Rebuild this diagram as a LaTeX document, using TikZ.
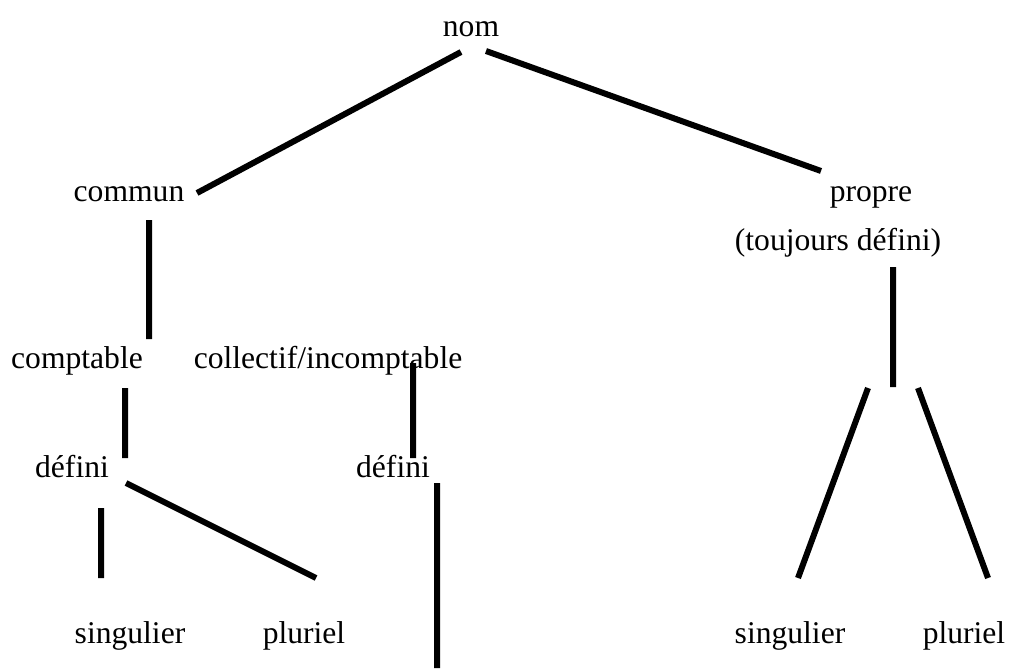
\documentclass[tikz,border=0pt]{standalone}
\usepackage{fontspec}
\setmainfont{Liberation Serif}

\begin{document}
\begin{tikzpicture}[x=0.5pt,y=-0.5pt]
      \tikzset{
        every node/.style={anchor=base,inner sep=0pt,font=\fontsize{15.8}{19}\selectfont},
        branch/.style={line width=3pt}
      }

      \useasboundingbox (0,0) rectangle (1010,668);

      \node (nom) at (471,37) {nom};
      \node (commun) at (129,202) {commun};
      \node (propre) at (871,202) {propre};
      \node (toujours) at (838,250) {(toujours défini)};
      \node (comptable) at (77,368) {comptable};
      \node (collectif) at (328,368) {collectif/incomptable};
      \node (defini1) at (72,477) {défini};
      \node (defini2) at (393,477) {défini};
      \node (sing1) at (130,643) {singulier};
      \node (plur1) at (304,643) {pluriel};
      \node (sing2) at (790,643) {singulier};
      \node (plur2) at (964,643) {pluriel};

      % loose ends of the branches
      \coordinate (n1) at (461,52);
      \coordinate (n2) at (486,51);
      \coordinate (c1) at (197,193);
      \coordinate (p1) at (821,171);
      \coordinate (c2) at (149,220);
      \coordinate (c3) at (149,339);
      \coordinate (t1) at (893,267);
      \coordinate (t2) at (893,387);
      \coordinate (s1) at (868,388);
      \coordinate (s2) at (798,578);
      \coordinate (s3) at (918,388);
      \coordinate (s4) at (988,578);
      \coordinate (k1) at (125,388);
      \coordinate (k2) at (125,458);
      \coordinate (i1) at (413,363);
      \coordinate (i2) at (413,458);
      \coordinate (d1) at (126,483);
      \coordinate (d2) at (316,578);
      \coordinate (d3) at (101,508);
      \coordinate (d4) at (101,578);
      \coordinate (d5) at (437,483);
      \coordinate (d6) at (437,668);

      \draw[branch] (n1) -- (c1)
            (n2) -- (p1)
            (c2) -- (c3)
            (t1) -- (t2)
            (s1) -- (s2)
            (s3) -- (s4)
            (k1) -- (k2)
            (i1) -- (i2)
            (d1) -- (d2)
            (d3) -- (d4)
            (d5) -- (d6);
    \end{tikzpicture}
\end{document}
